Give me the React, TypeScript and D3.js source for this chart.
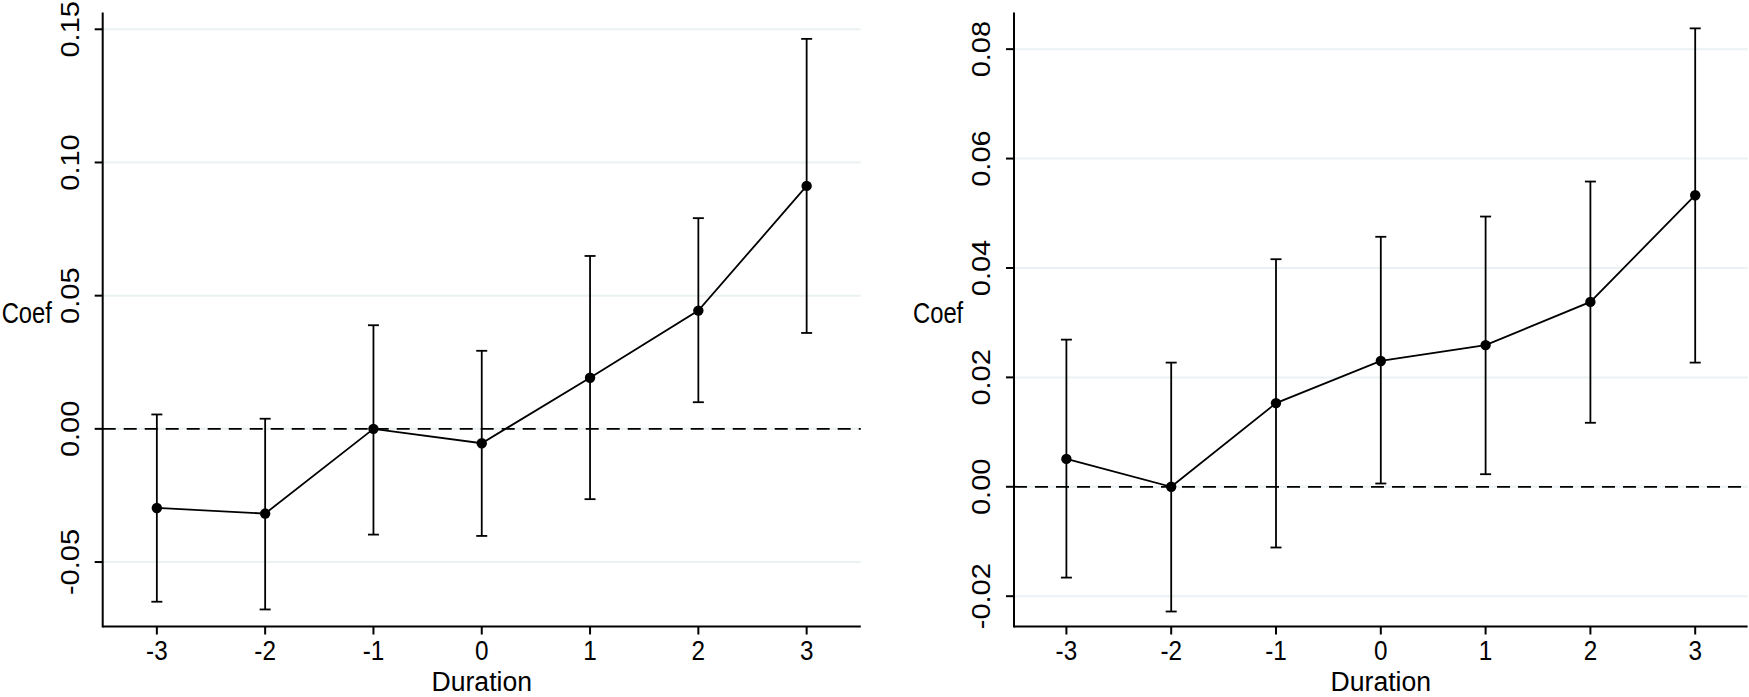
import React from 'react';
import * as d3 from 'd3';

// durations on the x axis
const durations = [-3, -2, -1, 0, 1, 2, 3];

// left panel: point estimates and 95% CI bounds
const leftCoef = [-0.0297, -0.0318, 0.0, -0.0054, 0.0192, 0.0444, 0.0912];
const leftHigh = [0.0054, 0.0038, 0.0389, 0.0293, 0.0649, 0.0791, 0.1464];
const leftLow = [-0.0649, -0.0678, -0.0397, -0.0402, -0.0264, 0.01, 0.036];
const leftTicks = [-0.05, 0, 0.05, 0.1, 0.15];

// right panel
const rightCoef = [0.0051, 0.0, 0.0153, 0.023, 0.0259, 0.0338, 0.0533];
const rightHigh = [0.0269, 0.0227, 0.0416, 0.0457, 0.0494, 0.0558, 0.0838];
const rightLow = [-0.0166, -0.0228, -0.0111, 0.0006, 0.0023, 0.0117, 0.0227];
const rightTicks = [-0.02, 0, 0.02, 0.04, 0.06, 0.08];

const FONT = '"Liberation Sans", Arial, Helvetica, sans-serif';
const FS = 29;
const SX = 0.9; // the source text is a bit narrower than Arial
const GRID = '#eaf2f3';

// stata style: plain hyphen for negatives
const fmt = (t: number) => t.toFixed(2);

type PanelProps = {
    coef: number[];
    high: number[];
    low: number[];
    ticks: number[];
    yDomain: [number, number];
    left: number;
    right: number;
};

const Panel = ({ coef, high, low, ticks, yDomain, left, right }: PanelProps) => {
    const top = 12.5;
    const bottom = 626.5;

    const x = d3.scaleLinear().domain([-3.5, 3.5]).range([left, right]);
    const y = d3.scaleLinear().domain(yDomain).range([bottom, top]);

    const pts: [number, number][] = durations.map((d, i) => [d, coef[i]]);
    const line = d3.line<[number, number]>()
        .x(d => x(d[0]))
        .y(d => y(d[1]));

    const mid = (left + right) / 2;

    return (
        <g fontFamily={FONT} fontSize={FS} fill="#000">
            {/* grid */}
            {ticks.map(t => (
                <line key={'g' + t} x1={left} x2={right} y1={y(t)} y2={y(t)} stroke={GRID} strokeWidth={2} />
            ))}
            {/* zero ref line */}
            <line x1={left} x2={right} y1={y(0)} y2={y(0)} stroke="#000" strokeWidth={1.8} strokeDasharray="13,8" />

            {/* axes */}
            <line x1={left} x2={left} y1={top} y2={bottom + 1} stroke="#000" strokeWidth={2} />
            <line x1={left} x2={right} y1={bottom} y2={bottom} stroke="#000" strokeWidth={2} />

            {ticks.map(t => (
                <g key={'yt' + t}>
                    <line x1={left - 8} x2={left} y1={y(t)} y2={y(t)} stroke="#000" strokeWidth={2} />
                    <text
                        transform={`translate(${left - 24},${y(t)}) scale(${SX},1) rotate(-90)`}
                        textAnchor="middle"
                    >
                        {fmt(t)}
                    </text>
                </g>
            ))}
            {durations.map(d => (
                <g key={'xt' + d}>
                    <line x1={x(d)} x2={x(d)} y1={bottom} y2={bottom + 8} stroke="#000" strokeWidth={2} />
                    <text
                        transform={`translate(${x(d)},${660}) scale(${SX},1)`}
                        textAnchor="middle"
                        fontSize={27}
                    >
                        {String(d)}
                    </text>
                </g>
            ))}

            <text transform={`translate(${mid},${691}) scale(0.95,1)`} textAnchor="middle" fontSize={28}>
                Duration
            </text>
            <text transform={`translate(${left - 101},${323}) scale(0.82,1)`} textAnchor="start">Coef</text>

            {/* confidence intervals */}
            {durations.map((d, i) => (
                <g key={'ci' + d} stroke="#000" strokeWidth={1.8}>
                    <line x1={x(d)} x2={x(d)} y1={y(high[i])} y2={y(low[i])} />
                    <line x1={x(d) - 5.5} x2={x(d) + 5.5} y1={y(high[i])} y2={y(high[i])} />
                    <line x1={x(d) - 5.5} x2={x(d) + 5.5} y1={y(low[i])} y2={y(low[i])} />
                </g>
            ))}

            <path d={line(pts) ?? ''} fill="none" stroke="#000" strokeWidth={1.8} />
            {pts.map(p => (
                <circle key={'p' + p[0]} cx={x(p[0])} cy={y(p[1])} r={5.2} fill="#000" />
            ))}
        </g>
    );
};

const App = () => {
    return (
        <svg
            width={1749}
            height={697}
            style={{ position: 'absolute', left: 0, top: 0, background: '#fff' }}
        >
            <rect width={1749} height={697} fill="#fff" />
            <Panel
                coef={leftCoef}
                high={leftHigh}
                low={leftLow}
                ticks={leftTicks}
                yDomain={[-0.0742, 0.1563]}
                left={102.7}
                right={860.8}
            />
            <Panel
                coef={rightCoef}
                high={rightHigh}
                low={rightLow}
                ticks={rightTicks}
                yDomain={[-0.02554, 0.0867]}
                left={1014}
                right={1747.6}
            />
        </svg>
    );
};

export default App;
